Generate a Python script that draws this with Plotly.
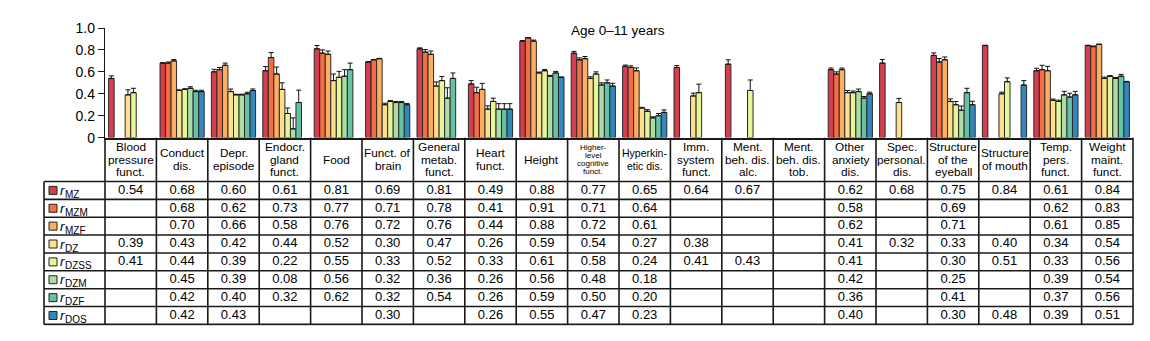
import plotly.graph_objects as go

# ---------------------------------------------------------------- data
categories = [
    "Blood\npressure\nfunct.", "Conduct\ndis.", "Depr.\nepisode", "Endocr.\ngland\nfunct.",
    "Food", "Funct. of\nbrain", "General\nmetab.\nfunct.", "Heart\nfunct.", "Height",
    "Higher-\nlevel\ncognitive\nfunct.", "Hyperkin-\netic dis.", "Imm.\nsystem\nfunct.",
    "Ment.\nbeh. dis.\nalc.", "Ment.\nbeh. dis.\ntob.", "Other\nanxiety\ndis.",
    "Spec.\npersonal.\ndis.", "Structure\nof the\neyeball", "Structure\nof mouth",
    "Temp.\npers.\nfunct.", "Weight\nmaint.\nfunct.",
]

series_names = ["MZ", "MZM", "MZF", "DZ", "DZSS", "DZM", "DZF", "DOS"]

r_mz   = [0.54, 0.68, 0.60, 0.61, 0.81, 0.69, 0.81, 0.49, 0.88, 0.77, 0.65, 0.64, 0.67, None, 0.62, 0.68, 0.75, 0.84, 0.61, 0.84]
r_mzm  = [None, 0.68, 0.62, 0.73, 0.77, 0.71, 0.78, 0.41, 0.91, 0.71, 0.64, None, None, None, 0.58, None, 0.69, None, 0.62, 0.83]
r_mzf  = [None, 0.70, 0.66, 0.58, 0.76, 0.72, 0.76, 0.44, 0.88, 0.72, 0.61, None, None, None, 0.62, None, 0.71, None, 0.61, 0.85]
r_dz   = [0.39, 0.43, 0.42, 0.44, 0.52, 0.30, 0.47, 0.26, 0.59, 0.54, 0.27, 0.38, None, None, 0.41, 0.32, 0.33, 0.40, 0.34, 0.54]
r_dzss = [0.41, 0.44, 0.39, 0.22, 0.55, 0.33, 0.52, 0.33, 0.61, 0.58, 0.24, 0.41, 0.43, None, 0.41, None, 0.30, 0.51, 0.33, 0.56]
r_dzm  = [None, 0.45, 0.39, 0.08, 0.56, 0.32, 0.36, 0.26, 0.56, 0.48, 0.18, None, None, None, 0.42, None, 0.25, None, 0.39, 0.54]
r_dzf  = [None, 0.42, 0.40, 0.32, 0.62, 0.32, 0.54, 0.26, 0.59, 0.50, 0.20, None, None, None, 0.36, None, 0.41, None, 0.37, 0.56]
r_dos  = [None, 0.42, 0.43, None, None, 0.30, None, 0.26, 0.55, 0.47, 0.23, None, None, None, 0.40, None, 0.30, 0.48, 0.39, 0.51]

# upper error (standard error) for every correlation
se_mz   = [0.023, 0.004, 0.023, 0.038, 0.030, 0.003, 0.009, 0.030, 0.005, 0.017, 0.012, 0.017, 0.040, 0, 0.015, 0.032, 0.023, 0.003, 0.023, 0.003]
se_mzm  = [0, 0.010, 0.020, 0.046, 0.030, 0.003, 0.023, 0.050, 0.003, 0.017, 0.015, 0, 0, 0, 0.020, 0, 0.032, 0, 0.040, 0.006]
se_mzf  = [0, 0.012, 0.020, 0.064, 0.030, 0.003, 0.030, 0.055, 0.010, 0.020, 0.026, 0, 0, 0, 0.015, 0, 0.026, 0, 0.040, 0.003]
se_dz   = [0.046, 0.006, 0.023, 0.060, 0.060, 0.014, 0.038, 0.030, 0.008, 0.015, 0.006, 0.026, 0, 0, 0.020, 0.038, 0.023, 0.015, 0.012, 0.012]
se_dzss = [0.040, 0.006, 0.006, 0.050, 0.055, 0.008, 0.038, 0.030, 0.012, 0.020, 0.015, 0.078, 0.096, 0, 0.015, 0, 0.030, 0.035, 0.012, 0.006]
se_dzm  = [0, 0.014, 0.006, 0.100, 0.060, 0.010, 0.095, 0.050, 0.008, 0.020, 0.010, 0, 0, 0, 0.023, 0, 0.038, 0, 0.032, 0.009]
se_dzf  = [0, 0.012, 0.014, 0.113, 0.060, 0.010, 0.050, 0.050, 0.014, 0.026, 0.020, 0, 0, 0, 0.015, 0, 0.040, 0, 0.035, 0.017]
se_dos  = [0, 0.012, 0.014, 0, 0, 0.012, 0, 0.050, 0.003, 0.026, 0.023, 0, 0, 0, 0.015, 0, 0.032, 0.040, 0.032, 0.003]

title_text = "Age 0\u201311 years"
y_ticks = [0, 0.2, 0.4, 0.6, 0.8, 1.0]
y_ticktext = ["0", "0.2", "0.4", "0.6", "0.8", "1.0"]

series_values = [r_mz, r_mzm, r_mzf, r_dz, r_dzss, r_dzm, r_dzf, r_dos]
series_errors = [se_mz, se_mzm, se_mzf, se_dz, se_dzss, se_dzm, se_dzf, se_dos]

# ---------------------------------------------------------------- style
colors = ["#d53e4f", "#f46d43", "#fdae61", "#fee08b", "#e6f598", "#abdda4", "#66c2a5", "#3288bd"]
FONT = "Liberation Sans, Arial, Helvetica, sans-serif"
INK = "#1a1a1a"
# header font size / line spacing (px) for columns with tighter labels
header_style = {9: (8.0, 8.7), 10: (10.5, 13.5)}
header_default = (11.8, 13.5)

# ---------------------------------------------------------------- geometry (px)
W, H = 1150, 341
PX_L, PX_R = 105, 1133          # plot area of the bar panel
PY_ZERO, PY_ONE = 136, 21       # y = 0 and y = 1 of the bar panel
TABLE_L = 44                    # left edge of the row-label column
ROW_H = 18.75
HEADER_UNITS = 46 / ROW_H
n_cat = len(categories)
n_ser = len(series_names)
UNIT = (PX_R - PX_L) / n_cat

def px_x(v):
    return PX_L + (v + 0.5) * UNIT

top_y2 = 0.5 + HEADER_UNITS
def px_y2(v):
    return PY_ZERO + (top_y2 - v) * ROW_H

label_left = -0.5 - (PX_L - TABLE_L) / UNIT
x2_range = [label_left - 0.04, n_cat - 0.5 + 0.04]
y2_range = [-(n_ser - 0.5) - 0.08, top_y2]

fig = go.Figure()

# ---------------------------------------------------------------- bars
xs = list(range(n_cat))
for name, vals, errs, col in zip(series_names, series_values, series_errors, colors):
    fig.add_trace(go.Bar(
        x=xs, y=vals, name=name,
        marker=dict(color=col, line=dict(color="#2a2a2a", width=1)),
        error_y=dict(type="data", array=errs, arrayminus=[0] * n_cat, symmetric=False,
                     thickness=1, width=2.5, color="#111111"),
        xaxis="x", yaxis="y", showlegend=False, hoverinfo="skip",
    ))

# ---------------------------------------------------------------- table values
for i, vals in enumerate(series_values):
    idx = [j for j, v in enumerate(vals) if v is not None]
    fig.add_trace(go.Scatter(
        x=idx, y=[-i] * len(idx), mode="text",
        text=[f"{vals[j]:.2f}" for j in idx],
        textfont=dict(family=FONT, size=13, color="black"),
        xaxis="x2", yaxis="y2", showlegend=False, hoverinfo="skip", cliponaxis=False,
    ))

# colour keys of the row labels
key_x = label_left + (53 - TABLE_L) / UNIT
fig.add_trace(go.Scatter(
    x=[key_x] * n_ser, y=[-i for i in range(n_ser)], mode="markers",
    marker=dict(symbol="square", size=8, color=colors, line=dict(color="#222", width=1)),
    xaxis="x2", yaxis="y2", showlegend=False, hoverinfo="skip", cliponaxis=False,
))

annotations = []
r_x = label_left + (58 - TABLE_L) / UNIT
sub_x = label_left + (63 - TABLE_L) / UNIT
for i, name in enumerate(series_names):
    # italic "r" followed by the subscripted twin group
    annotations.append(dict(
        x=r_x, y=-i, xref="x2", yref="y2", xanchor="left", yanchor="middle",
        text="r", showarrow=False,
        font=dict(family=FONT, size=13.5, color="black", style="italic"),
    ))
    annotations.append(dict(
        x=sub_x, y=-i, xref="x2", yref="y2", xanchor="left", yanchor="middle",
        yshift=-4, text=name, showarrow=False,
        font=dict(family=FONT, size=10, color="black"),
    ))

# column headers, one annotation per line
hc = 0.5 + HEADER_UNITS / 2
for j, cat in enumerate(categories):
    lines = cat.split("\n")
    size, spacing = header_style.get(j, header_default)
    n = len(lines)
    for k, line in enumerate(lines):
        yy = hc + ((n - 1) / 2 - k) * spacing / ROW_H
        annotations.append(dict(
            x=j, y=yy, xref="x2", yref="y2", xanchor="center", yanchor="middle",
            text=line, showarrow=False, font=dict(family=FONT, size=size, color="black"),
        ))

annotations.append(dict(
    x=618 / W, y=1 - 24 / H, xref="paper", yref="paper", xanchor="center", yanchor="middle",
    text=title_text, showarrow=False, font=dict(family=FONT, size=13.5, color="black"),
))

# ---------------------------------------------------------------- table grid
shapes = []
LW = 1.6
bottom = -(n_ser - 0.5)
for i in range(n_ser + 1):
    yv = 0.5 - i
    shapes.append(dict(type="line", xref="x2", yref="y2", x0=label_left, x1=n_cat - 0.5,
                       y0=yv, y1=yv, line=dict(color=INK, width=LW)))
shapes.append(dict(type="line", xref="x2", yref="y2", x0=label_left, x1=label_left,
                   y0=bottom, y1=0.5, line=dict(color=INK, width=LW)))
for j in range(n_cat + 1):
    xv = j - 0.5
    shapes.append(dict(type="line", xref="x2", yref="y2", x0=xv, x1=xv,
                       y0=bottom, y1=top_y2, line=dict(color=INK, width=LW)))

# ---------------------------------------------------------------- layout
fig.update_layout(
    width=W, height=H, margin=dict(l=0, r=0, t=0, b=0),
    paper_bgcolor="white", plot_bgcolor="white",
    font=dict(family=FONT, color="black"),
    barmode="group", bargap=0.14, bargroupgap=0,
    showlegend=False,
    xaxis=dict(domain=[PX_L / W, PX_R / W], range=[-0.5, n_cat - 0.5], anchor="y",
               showline=True, linecolor=INK, linewidth=LW, showticklabels=False,
               ticks="", showgrid=False, zeroline=False, fixedrange=True),
    yaxis=dict(domain=[1 - PY_ZERO / H, 1 - PY_ONE / H], range=[0, 1], anchor="x",
               showline=True, linecolor=INK, linewidth=1.3, ticks="outside", ticklen=6,
               tickwidth=1.3, tickcolor=INK, tickvals=y_ticks, ticktext=y_ticktext,
               tickfont=dict(family=FONT, size=14, color="black"),
               showgrid=False, zeroline=False, fixedrange=True),
    xaxis2=dict(domain=[px_x(x2_range[0]) / W, px_x(x2_range[1]) / W], range=x2_range,
                anchor="y2", visible=False, fixedrange=True),
    yaxis2=dict(domain=[1 - px_y2(y2_range[0]) / H, 1 - PY_ZERO / H], range=y2_range,
                anchor="x2", visible=False, fixedrange=True),
    annotations=annotations, shapes=shapes,
)

fig.write_html("out.html")
